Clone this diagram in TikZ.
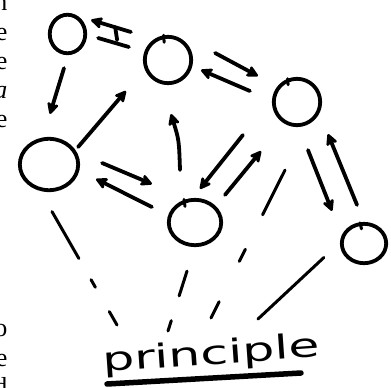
\documentclass[tikz,border=0pt]{standalone}
\usepackage{fontspec}
\setmainfont{Liberation Serif}
\newfontfamily\handfont{DejaVu Sans}
\usetikzlibrary{arrows.meta,shapes.geometric,calc}
\begin{document}
\begin{tikzpicture}[x=1pt,y=-1pt,
  ink/.style={line width=3.8pt, line cap=round, line join=round},
  bub/.style={ellipse, draw, ink, inner sep=0pt},
  arr/.style={ink, -{Stealth[length=14pt,width=14pt,inset=3.5pt,round]}},
  dsh/.style={line width=3pt, line cap=round},
  tick/.style={line width=3pt, line cap=round},
  edgetxt/.style={font=\fontsize{26}{26}\selectfont, anchor=base east, inner sep=0pt},
]
\useasboundingbox (0,0) rectangle (391,388);
\fill[white] (0,0) rectangle (391,388);

% bubbles
\node[bub, minimum width=35.5pt, minimum height=38.5pt] (A) at (67.5,34) {};
\node[bub, minimum width=46.4pt, minimum height=46.4pt] (B) at (168,60) {};
\node[bub, minimum width=46.4pt, minimum height=46.4pt] (C) at (297,102) {};
\node[bub, minimum width=58.4pt, minimum height=51.4pt] (D) at (49,164.5) {};
\node[bub, minimum width=52.4pt, minimum height=45.4pt] (E) at (195,222.5) {};
\node[bub, minimum width=44.4pt, minimum height=39.4pt] (F) at (364,243.5) {};

% small pen ticks on the bubbles
\draw[tick] (B.100) -- ++(0.5,7);
\draw[tick] (C.112) -- ++(0.5,6);
\draw[tick] ([shift={(-11,1.5)}]E.north) -- ++(1,7);
\draw[tick] ([shift={(-4,1)}]F.north) -- ++(1.5,6);

% A <-> B
\draw[arr] ([shift={(-12,-28)}]B.west) -- ([shift={(4,-14)}]A.east);
\draw[ink] ([shift={(11,4)}]A.east) -- ([shift={(-14,-13)}]B.west);
\draw[ink] ([shift={(28,-7)}]A.east) -- ([shift={(30,6)}]A.east);

% A -> D
\draw[arr] ([shift={(-3.5,13)}]A.south) -- ([shift={(1,-23)}]D.north);
% D -> B
\draw[arr] ([shift={(-2,-17.5)}]D.east) -- ([shift={(-17,31)}]B.west);
% B <-> C
\draw[arr] ([shift={(22,-7)}]B.east) -- ([shift={(-14,-26)}]C.west);
\draw[arr] ([shift={(-22,-11)}]C.west) -- ([shift={(8,10)}]B.east);
% D <-> E
\draw[arr] ([shift={(22,-1.5)}]D.east) -- ([shift={(-15,-38.5)}]E.west);
\draw[arr] ([shift={(-15,-15.5)}]E.west) -- ([shift={(16,14.5)}]D.east);
% E -> B
\draw[arr] ([shift={(-15,-28)}]E.north) .. controls (179,140) .. ([shift={(3,29)}]B.south);
% C <-> E
\draw[arr] ([shift={(-29,33)}]C.west) -- ([shift={(5,-9)}]E.north);
\draw[arr] ([shift={(30,-3)}]E.north) -- ([shift={(-36,24)}]C.south);
% C <-> F
\draw[arr] ([shift={(11,23)}]C.south) -- ([shift={(-32,-11)}]F.north);
\draw[arr] ([shift={(-7,-17)}]F.north) -- ([shift={(31,7)}]C.south);

% principle
\node[font=\handfont\fontsize{33}{33}\selectfont, anchor=base west,
      inner sep=0pt, rotate=4, xscale=1.53] (P) at (103,372) {principle};
\coordinate (u1) at (107,384);
\coordinate (u2) at (301,373);
\draw[line width=5.5pt, line cap=round] (u1) -- (u2);

\coordinate (pD) at (117,325);
\coordinate (pE) at (168,331);
\coordinate (pC) at (211,318);
\coordinate (pF) at (258,319);
\draw[dsh, dash pattern=on 54pt off 24.5pt on 8.7pt off 28pt on 15.6pt off 50pt]
  ([shift={(3,19.5)}]D.south) -- (pD);
\draw[dsh, dash pattern=on 26pt off 26pt on 12pt off 50pt]
  ([shift={(-8,24)}]E.south) -- (pE);
\draw[dsh, dash pattern=on 50pt off 38.5pt on 13.6pt off 45pt on 21pt off 50pt]
  ([shift={(-12,43)}]C.south) -- (pC);
\draw[dsh] ([shift={(-16,14)}]F.west) -- (pF);

% cut-off text at the left edge
\node[edgetxt] (t1) at (7.5,10) {n};
\node[edgetxt] (t2) at (7.5,40) {e};
\node[edgetxt] (t3) at (7.5,69) {e};
\node[edgetxt] (t4) at (7.5,98) {\itshape a};
\node[edgetxt] (t5) at (7.5,127) {e};
\node[edgetxt] (t6) at (7.5,336) {o};
\node[edgetxt] (t7) at (7.5,366) {e};
\node[edgetxt] (t8) at (7.5,395) {d};
\end{tikzpicture}
\end{document}
